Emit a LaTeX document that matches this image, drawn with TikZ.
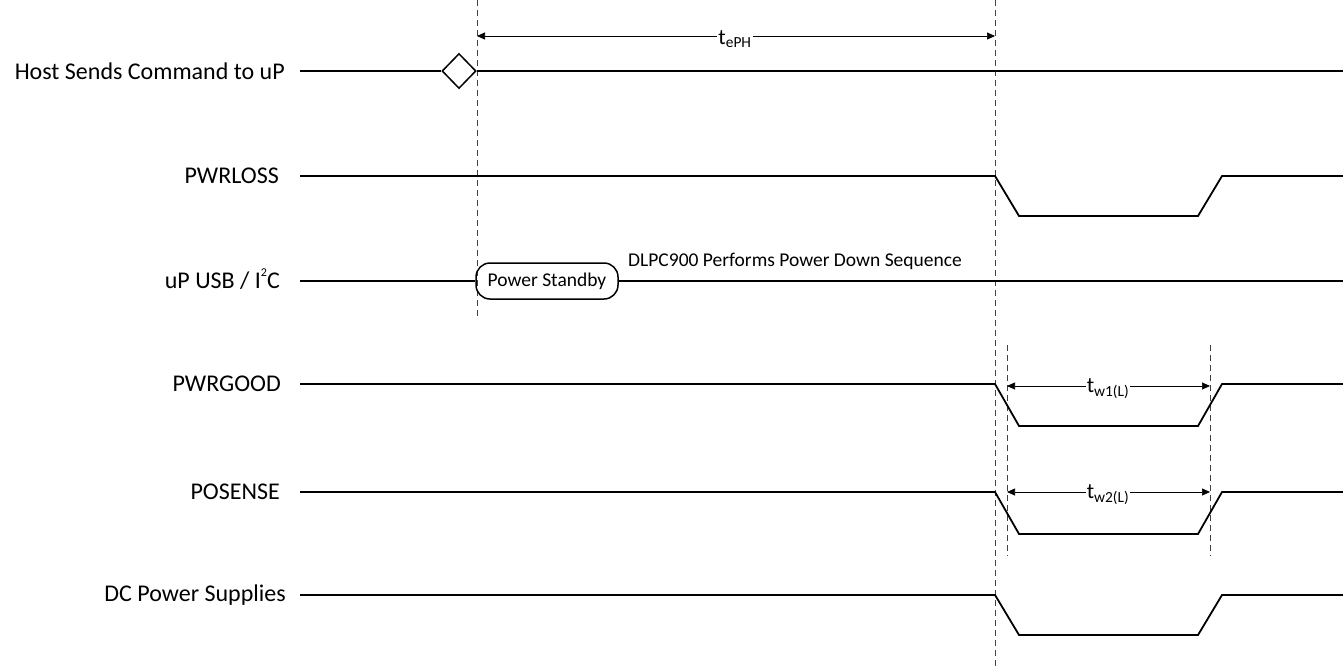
\documentclass[tikz,border=0pt]{standalone}
\usepackage{fontspec}
\setmainfont{Carlito}
\usetikzlibrary{shapes.geometric,arrows.meta}
\newcommand{\smallsup}[1]{\smash{\raisebox{0.5em}{\fontsize{12}{12}\selectfont #1}}}
\begin{document}
\begin{tikzpicture}[x=1pt,y=-1pt,
  sig/.style={line width=1.8pt,line join=miter},
  guide/.style={line width=0.7pt,dash pattern=on 6pt off 4pt,black!75},
  dim/.style={line width=0.7pt,{Triangle[length=8pt,width=7pt]}-{Triangle[length=8pt,width=7pt]}},
  lab/.style={anchor=east,font=\fontsize{24}{28}\selectfont,inner sep=0pt},
  small/.style={font=\fontsize{19.5}{23}\selectfont},
  dimlab/.style={fill=white,inner sep=1pt,font=\fontsize{22}{26}\selectfont}]
\useasboundingbox (0,0) rectangle (1343,667);
% labels
\node[lab] (lhost) at (285,71) {Host Sends Command to uP};
\node[lab] (lloss) at (279,176) {PWRLOSS};
\node[lab] (lusb) at (280,281) {uP USB / I\smallsup{2}C};
\node[lab] (lgood) at (281,384) {PWRGOOD};
\node[lab] (lsense) at (280,492) {POSENSE};
\node[lab] (ldc) at (286,595) {DC Power Supplies};
% guides
\coordinate (g1t) at (477,0); \coordinate (g1b) at (477,318);
\coordinate (g2t) at (995,0); \coordinate (g2b) at (995,667);
\coordinate (g3t) at (1007,345); \coordinate (g3b) at (1007,556);
\coordinate (g4t) at (1210,345); \coordinate (g4b) at (1210,556);
\draw[guide] (g1t) -- (g1b);
\draw[guide] (g2t) -- (g2b);
\draw[guide] (g3t) -- (g3b);
\draw[guide] (g4t) -- (g4b);
% host
\node[diamond,draw,line width=1.5pt,minimum width=34pt,minimum height=35pt,inner sep=0pt,aspect=1] (dia) at (459,71) {};
\draw[sig] (300,71) -- (dia.west);
\draw[sig] (dia.east) -- (1343,71);
% pwrloss-like signals
\foreach \y/\d in {176/40,384/42,492/42,595/40}{
  \draw[sig] (300,\y) -- (995,\y) -- (1019,\y+\d) -- (1198,\y+\d) -- (1222,\y) -- (1343,\y);
}
% usb
\node[draw,line width=1.5pt,rounded corners=14pt,minimum width=142pt,minimum height=36pt,inner sep=0pt,small] (ps) at (547,281) {Power Standby};
\draw[sig] (300,281) -- (ps.west);
\draw[sig] (ps.east) -- (1343,281);
\node[small,anchor=base] (dlpc) at (795,266) {DLPC900 Performs Power Down Sequence};
% dimensions
\coordinate (a1) at (477,36); \coordinate (a2) at (995,36);
\draw[dim] (a1) -- (a2);
\node[dimlab] (tep) at (735,39) {t\textsubscript{ePH}};
\coordinate (b1) at (1007,386); \coordinate (b2) at (1210,386);
\draw[dim] (b1) -- (b2);
\node[dimlab] (tw1) at (1108,389) {t\textsubscript{w1(L)}};
\coordinate (c1) at (1007,492); \coordinate (c2) at (1210,492);
\draw[dim] (c1) -- (c2);
\node[dimlab] (tw2) at (1108,495) {t\textsubscript{w2(L)}};
\end{tikzpicture}
\end{document}
